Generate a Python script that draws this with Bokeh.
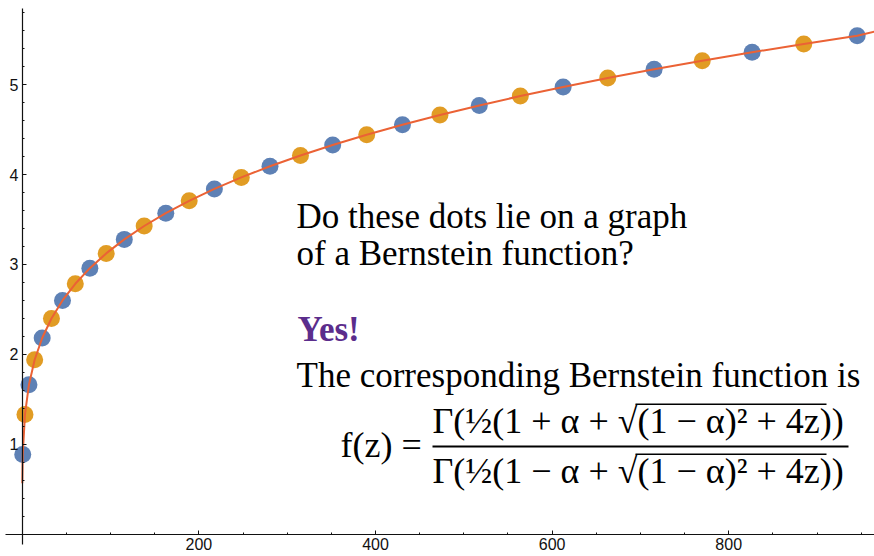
from bokeh.plotting import figure
from bokeh.models import Range1d, FixedTicker, Label, BoxAnnotation
from bokeh.embed import file_html
from bokeh.resources import INLINE

# Sample points z and their values f(z), split into two alternating series
z_blue = [0.5, 7.5, 22.5, 45.5, 76.5, 115.5, 162.5, 217.5, 280.5, 351.5,
          430.5, 517.5, 612.5, 715.5, 826.5, 945.5]
f_blue = [0.886, 1.662, 2.181, 2.599, 2.959, 3.279, 3.571, 3.841, 4.093, 4.330,
          4.555, 4.770, 4.975, 5.172, 5.362, 5.545]
z_orange = [3, 14, 33, 60, 95, 138, 189, 248, 315, 390, 473, 564, 663, 770, 885]
f_orange = [1.329, 1.939, 2.399, 2.785, 3.123, 3.428, 3.708, 3.969, 4.213, 4.444,
            4.664, 4.874, 5.075, 5.268, 5.454]

# Graph of the Bernstein function: its start and end, the rest runs through the dots
curve_start = (0.0, 0.564)
curve_end = (965.0, 5.59)

x_major = [200, 400, 600, 800]
x_minor = [50, 100, 150, 250, 300, 350, 450, 500, 550, 650, 700, 750, 850, 900, 950]
y_major = [1, 2, 3, 4, 5]
y_minor = [0.2, 0.4, 0.6, 0.8, 1.2, 1.4, 1.6, 1.8, 2.2, 2.4, 2.6, 2.8, 3.2, 3.4, 3.6,
           3.8, 4.2, 4.4, 4.6, 4.8, 5.2, 5.4, 5.6, 5.8]

BLUE = "#5E81B5"
ORANGE = "#E19C24"
RED = "#EB6235"
PURPLE = "#5B2D8C"
W, H = 874, 556

pts = sorted(zip(z_blue + z_orange, f_blue + f_orange))
curve_z = [curve_start[0]] + [q[0] for q in pts] + [curve_end[0]]
curve_f = [curve_start[1]] + [q[1] for q in pts] + [curve_end[1]]

p = figure(width=W, height=H, x_range=Range1d(-24.7, 965.1), y_range=Range1d(-0.2504, 5.9377),
           output_backend="svg", toolbar_location=None, min_border=0,
           outline_line_color=None, background_fill_color="white")
p.grid.visible = False

for ax in (p.xaxis[0], p.yaxis[0]):
    ax.fixed_location = 0
    ax.axis_line_color = "#111111"
    ax.axis_line_width = 1.2
    ax.major_tick_line_color = "#111111"
    ax.minor_tick_line_color = "#111111"
    ax.major_tick_in = 4
    ax.major_tick_out = 0
    ax.minor_tick_in = 2
    ax.minor_tick_out = 0
    ax.major_label_text_font = "Liberation Sans"
    ax.major_label_text_font_size = "16px"
    ax.major_label_text_color = "#111111"
    ax.major_label_standoff = 4

p.xaxis.ticker = FixedTicker(ticks=x_major, minor_ticks=x_minor)
p.yaxis.ticker = FixedTicker(ticks=y_major, minor_ticks=y_minor)
p.xaxis.bounds = (-19, 965)
p.yaxis.bounds = (-0.12, 5.85)

p.scatter(z_blue, f_blue, size=17, fill_color=BLUE, line_color=None)
p.scatter(z_orange, f_orange, size=17, fill_color=ORANGE, line_color=None)
p.line(curve_z, curve_f, line_color=RED, line_width=2)


def add_text(x, baseline, text, size=35, color="black", font="Liberation Serif", style="normal"):
    # the label anchor sits below the alphabetic baseline by about the font's descent
    y = H - baseline + 0.35 * size
    p.add_layout(Label(x=x, y=y, x_units="screen", y_units="screen", text=text,
                       text_font=font, text_font_size=f"{size}px", text_color=color,
                       text_font_style=style, text_baseline="alphabetic"))


def add_bar(left, right, top, thickness):
    p.add_layout(BoxAnnotation(left=left, right=right, top=H - top, bottom=H - top - thickness,
                               left_units="screen", right_units="screen",
                               top_units="screen", bottom_units="screen",
                               fill_color="black", fill_alpha=1, line_color=None))


add_text(296, 228, "Do these dots lie on a graph")
add_text(296, 265, "of a Bernstein function?")
add_text(297, 341, "Yes!", color=PURPLE, style="bold")
add_text(296, 387, "The corresponding Bernstein function is")

# f(z) as a fraction, with the bars over the square roots
add_text(340, 457, "f(z) =", size=36)
add_text(432, 433, "Γ(½(1 + α + √(1 − α)² + 4z))", size=36)
add_text(432, 483, "Γ(½(1 − α + √(1 − α)² + 4z))", size=36)
add_bar(432, 848, 445, 2)
add_bar(635, 826, 403, 1.5)
add_bar(635, 826, 453, 1.5)

open("out.html", "w").write(file_html(p, INLINE))
